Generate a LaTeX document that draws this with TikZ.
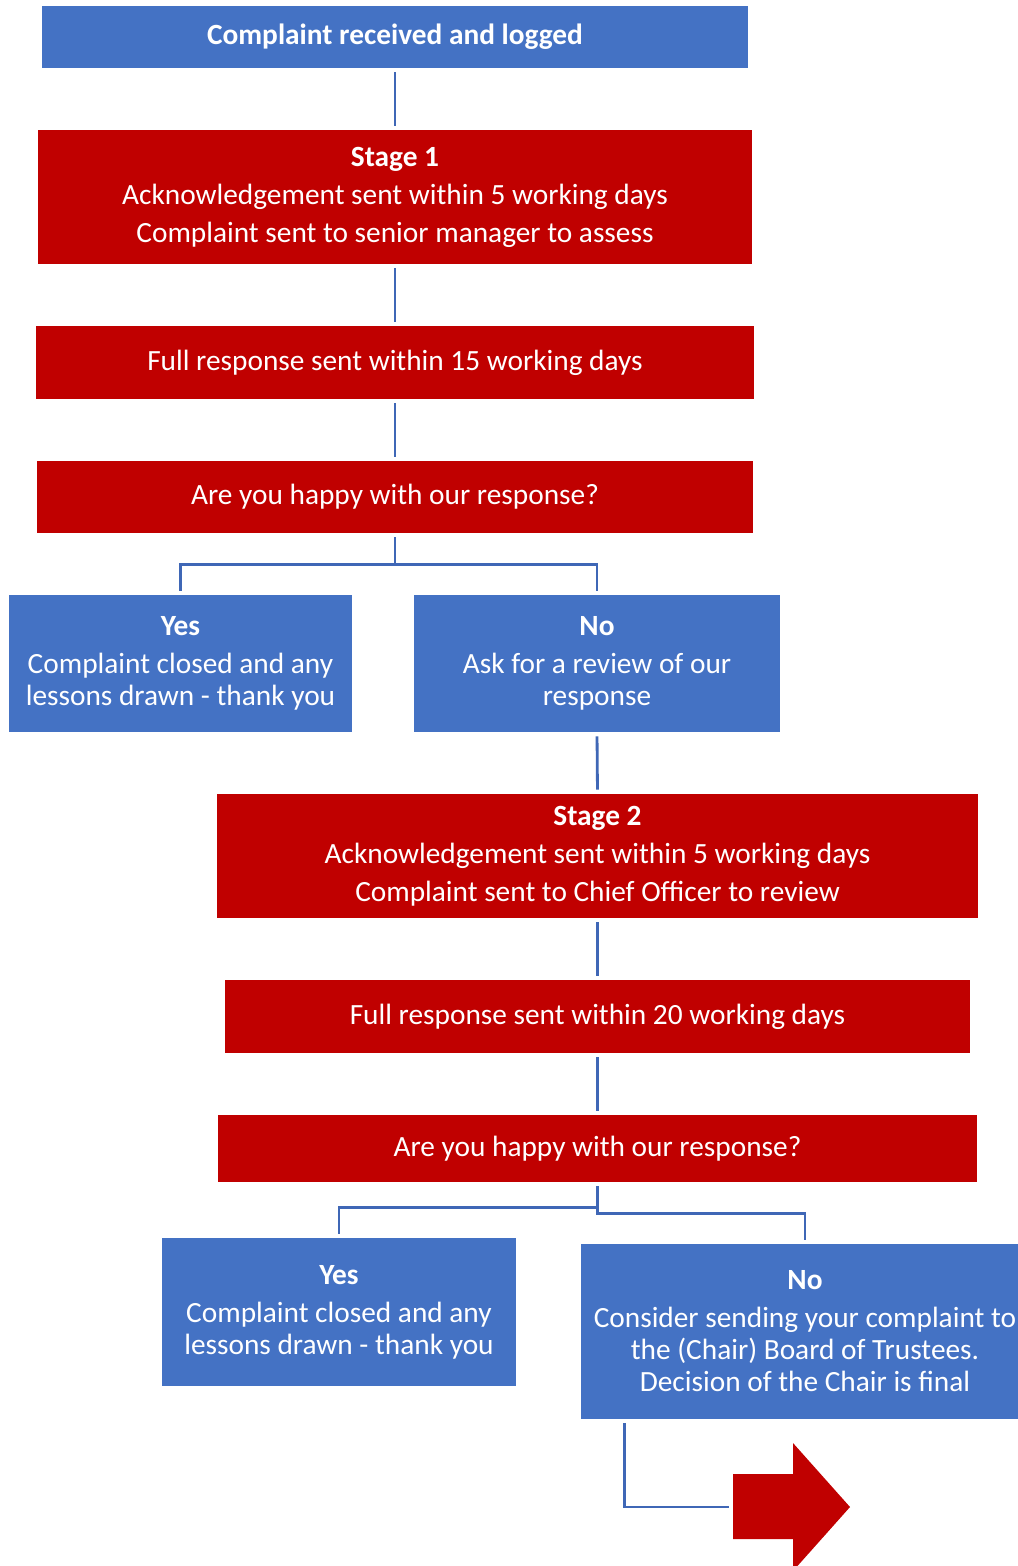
\documentclass[tikz,border=0pt]{standalone}
\usepackage{fontspec}
\setmainfont{Carlito}
\usepackage{tikz}
\usetikzlibrary{calc}
\definecolor{boxblue}{HTML}{4472C4}
\definecolor{boxred}{HTML}{C00000}
\definecolor{linkblue}{HTML}{3F67B6}
\begin{document}
\begin{tikzpicture}[x=0.02cm,y=-0.02cm,
  box/.style={text=white,align=center,inner sep=0pt,font=\fontsize{16.7}{18.2}\selectfont},
  bluebox/.style={box,fill=boxblue},
  redbox/.style={box,fill=boxred},
  link/.style={draw=linkblue,line width=1.6pt,shorten <=0.08cm,shorten >=0.08cm}]
\useasboundingbox (0,0) rectangle (1018,1566);
% stage 1
\node[bluebox,minimum width=14.12cm,minimum height=1.24cm] (start) at (395,37) {\textbf{Complaint received and logged}};
\node[redbox,minimum width=14.28cm,minimum height=2.68cm] (stageA) at (395,197)
  {\textbf{Stage 1}\\[3.4pt] Acknowledgement sent within 5 working days\\[3.4pt] Complaint sent to senior manager to assess};
\node[redbox,minimum width=14.36cm,minimum height=1.46cm] (fullA) at (395,362.5) {Full response sent within 15 working days};
\node[redbox,minimum width=14.32cm,minimum height=1.44cm] (happyA) at (395,497) {Are you happy with our response?};
\node[bluebox,minimum width=6.86cm,minimum height=2.74cm] (yesA) at (180.5,663.5)
  {\textbf{Yes}\\[3.4pt] Complaint closed and any\\ lessons drawn - thank you};
\node[bluebox,minimum width=7.32cm,minimum height=2.74cm] (noA) at (597,663.5)
  {\textbf{No}\\[3.4pt] Ask for a review of our\\ response};
% stage 2
\node[redbox,minimum width=15.22cm,minimum height=2.48cm] (stageB) at (597.5,856)
  {\textbf{Stage 2}\\[3.4pt] Acknowledgement sent within 5 working days\\[3.4pt] Complaint sent to Chief Officer to review};
\node[redbox,minimum width=14.90cm,minimum height=1.46cm] (fullB) at (597.5,1016.5) {Full response sent within 20 working days};
\node[redbox,minimum width=15.18cm,minimum height=1.34cm] (happyB) at (597.5,1148.5) {Are you happy with our response?};
\node[bluebox,minimum width=7.08cm,minimum height=2.96cm] (yesB) at (339,1312)
  {\textbf{Yes}\\[3.4pt] Complaint closed and any\\ lessons drawn - thank you};
\node[bluebox,minimum width=8.96cm,minimum height=3.50cm] (noB) at (805,1331.5)
  {\textbf{No}\\[3.4pt] Consider sending your complaint to\\ the (Chair) Board of Trustees.\\ Decision of the Chair is final};
% arrow
\fill[boxred] (733,1474)--(793,1474)--(793,1443)--(850,1507)--(793,1571)--(793,1539)--(733,1539)--cycle;
\coordinate (arrowtail) at (733,1507);
% links
\draw[link] (start) -- (stageA);
\draw[link] (stageA) -- (fullA);
\draw[link] (fullA) -- (happyA);
\draw[link] (happyA.south) -- ++(0,31) -| (yesA.north);
\draw[link] (happyA.south) -- ++(0,31) -| (noA.north);
\draw[link] (noA.south) -- (stageB.north);
\draw[link] (stageB.south) -- (fullB.north);
\draw[link] (fullB.south) -- (happyB.north);
\draw[link] (happyB.south) -- ++(0,25) -| (yesB.north);
\draw[link] (happyB.south) -- ++(0,31) -| (noB.north);
\draw[link] ($(noB.south west)+(44,0)$) |- (arrowtail);
\end{tikzpicture}
\end{document}
